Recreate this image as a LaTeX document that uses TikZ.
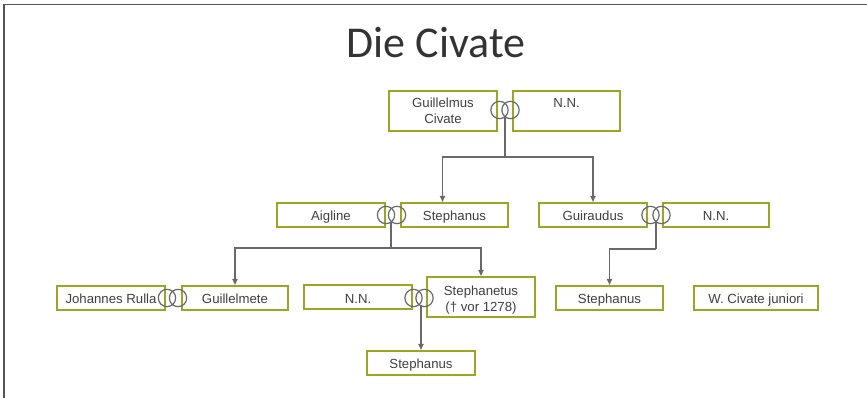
\documentclass[tikz,border=0pt]{standalone}
\usepackage{fontspec}
\setmainfont{Liberation Sans}
\newfontfamily\titlefont{Carlito}
\usetikzlibrary{arrows.meta}
\definecolor{olivebox}{RGB}{155,166,36}
\definecolor{linegray}{RGB}{105,105,105}
\definecolor{textgray}{RGB}{64,64,64}

\begin{document}
\begin{tikzpicture}[x=0.75pt, y=-0.75pt,
	person/.style={draw=olivebox, line width=1.5pt, fill=white, minimum height=18pt, minimum width=81pt, inner sep=0pt, align=center, text=textgray, font=\fontsize{9.9pt}{12pt}\selectfont},
	oneline/.style={align=none, text height=10pt, text depth=1pt},
	ring/.style={circle, draw=linegray, line width=0.9pt, minimum size=13pt, inner sep=0pt},
	link/.style={draw=linegray, line width=1.1pt},
	arr/.style={link, -{Triangle[length=4.5pt, width=3.8pt]}}]

	\useasboundingbox (0,0) rectangle (867,398);
	\draw[linegray!80!black, line width=1.3pt] (4,398) -- (4,4.5) -- (867,4.5);

	\node[text=black!80, font=\titlefont\fontsize{33pt}{36pt}\selectfont, anchor=base] (title) at(436,58) {Die Civate};

	\node[person, minimum height=30pt] (guillelmus) at(443,111) {Guillelmus\\Civate};
	\node[person, minimum height=30pt, minimum width=80pt] (nn1) at(566.5,111) {N.N.\\\mbox{}};
	\node[ring] (r1a) at(499.5,110) {};
	\node[ring] (r1b) at(510.5,110) {};
	\coordinate (m1) at(505,117);

	\node[person, oneline] (aigline) at(331,215) {Aigline};
	\node[person, oneline, minimum width=80pt] (stephanus1) at(454.5,215) {Stephanus};
	\node[ring] (r2a) at(386,215) {};
	\node[ring] (r2b) at(397,215) {};
	\coordinate (m2) at(391,222);

	\node[person, oneline] (guiraudus) at(593,215) {Guiraudus};
	\node[person, oneline, minimum width=80pt] (nn2) at(716,215) {N.N.};
	\node[ring] (r3a) at(650.5,215) {};
	\node[ring] (r3b) at(661.5,215) {};
	\coordinate (m3) at(656,222);

	\node[person, oneline] (johannes) at(111,298) {Johannes Rulla};
	\node[person, oneline, minimum width=80pt] (guillelmete) at(235,298) {Guillelmete};
	\node[ring] (r4a) at(167,298) {};
	\node[ring] (r4b) at(178,298) {};

	\node[person, oneline] (nn3) at(358,297.5) {N.N.};
	\node[person, align=none, minimum height=30pt] (stephanetus) at(481,297) {\raisebox{-2.3pt}[\height][\depth]{\begin{tabular}{@{}c@{}}Stephanetus\\(\textdagger{} vor 1278)\end{tabular}}};
	\node[ring] (r5a) at(413.5,298) {};
	\node[ring] (r5b) at(424.5,298) {};
	\coordinate (m5) at(421,305);

	\node[person, oneline] (stephanus3) at(421,363) {Stephanus};

	\node[person, oneline, minimum width=80pt] (stephanus2) at(609.5,298) {Stephanus};
	\node[person, oneline, minimum width=93pt] (civate) at(756,298) {W. Civate juniori};

	\coordinate (b1) at(505,157);
	\coordinate (b2) at(391,248);
	\coordinate (b3) at(656,249);

	\draw[link] (m1) -- (b1);
	\draw[arr] (b1) -| ([xshift=-9pt]stephanus1.north);
	\draw[arr] (b1) -| (guiraudus.north);

	\draw[link] (m2) -- (b2);
	\draw[arr] (b2) -| (guillelmete.north);
	\draw[arr] (b2) -| (stephanetus.north);

	\draw[link] (m3) -- (b3);
	\draw[arr] (b3) -| (stephanus2.north);

	\draw[arr] (m5) -- (m5 |- stephanus3.north);
\end{tikzpicture}
\end{document}
